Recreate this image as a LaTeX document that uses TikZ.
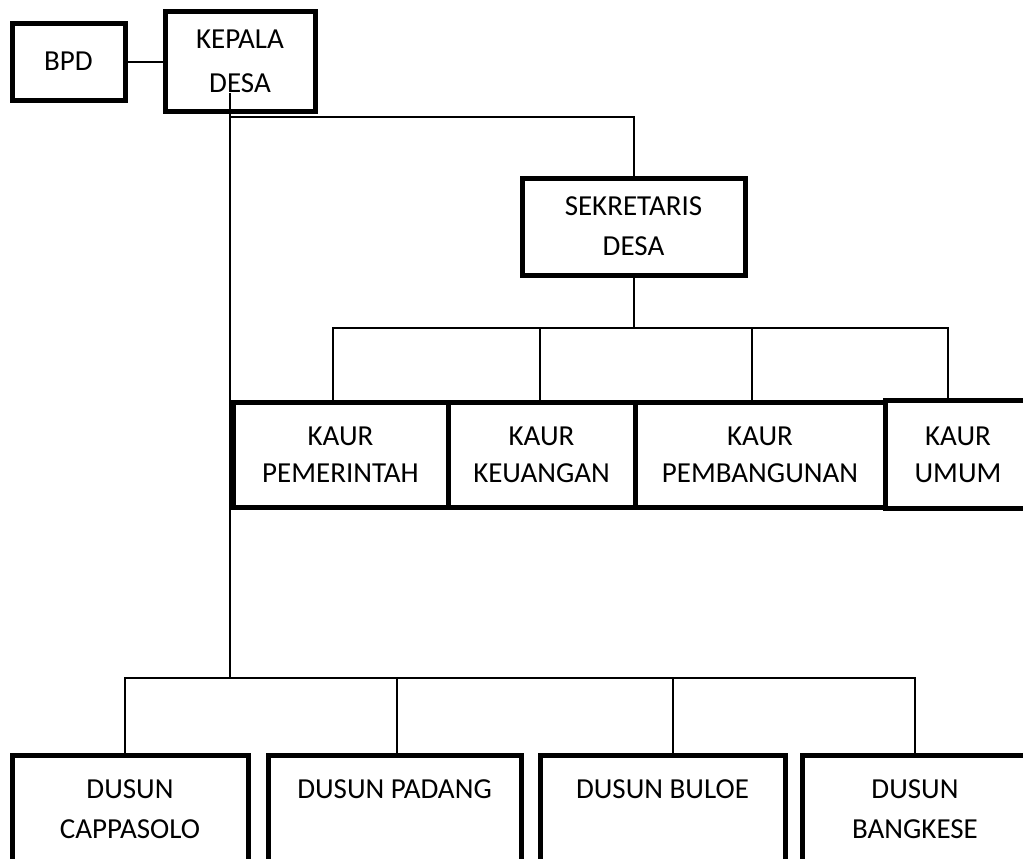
\documentclass[tikz,border=0pt]{standalone}
\usepackage{fontspec}
\setmainfont{Carlito}
\usetikzlibrary{positioning}

\begin{document}
\begin{tikzpicture}
  [%
 x=0.5pt, y=-0.5pt,
 unit/.style={
  rectangle,
  line width=2.5pt, % border
  draw=black,
  inner sep=0pt,
  outer sep=0pt,
  align=center,
  font=\fontsize{14.5}{20}\selectfont},
 kaur/.style={
  unit,
  minimum height=52.5pt,
  font=\fontsize{14.5}{18.5}\selectfont},
 dusun/.style={
  unit,
  minimum height=54pt},
 link/.style={line width=1pt}]
\useasboundingbox (0,0) rectangle (1023,858);
\clip (0,0) rectangle (1023,858);
\node (bpd) [unit, minimum width=56.5pt, minimum height=38.5pt] at (68.5,61.5) {BPD};
\node (kepala) [unit, minimum width=75pt, minimum height=50pt, font=\fontsize{14.5}{22}\selectfont, right=20pt of bpd] {KEPALA\\DESA};
\node (sekretaris) [unit, minimum width=111.5pt, minimum height=48.5pt] at (633.5,226.5) {SEKRETARIS\\DESA};
\node (pemerintah) [kaur, minimum width=107.5pt] at (340.5,454.5) {KAUR\\PEMERINTAH};
\node (keuangan) [kaur, minimum width=93.5pt, right=0pt of pemerintah] {KAUR\\KEUANGAN};
\node (pembangunan) [kaur, minimum width=125pt, right=0pt of keuangan] {KAUR\\PEMBANGUNAN};
\node (umum) [kaur, minimum width=73pt, minimum height=54pt, right=0pt of pembangunan] {KAUR\\UMUM};
\node (cappasolo) [dusun, minimum width=118pt] at (130,809) {DUSUN\\CAPPASOLO};
\node (padang) [dusun, minimum width=126.5pt, right=10pt of cappasolo] {DUSUN PADANG\\\mbox{}};
\node (buloe) [dusun, minimum width=122.5pt, right=9.5pt of padang] {DUSUN BULOE\\\mbox{}};
\node (bangkese) [dusun, minimum width=113pt, right=8.5pt of buloe] {DUSUN\\BANGKESE};
\coordinate (kdown) at (230,93);
\coordinate (hub) at (230,678);
\draw[link] (bpd) -- (kepala);
\draw[link] (kdown) -- (hub);
\draw[link] (kdown |- 0,117) -| (sekretaris.north);
\draw[link] (sekretaris.south) -- ++(0,53) coordinate (sbus);
\draw[link] (sbus) -| ([shift={(-7.5,0)}]pemerintah.north);
\draw[link] (sbus) -| ([shift={(-1.5,0)}]keuangan.north);
\draw[link] (sbus) -| ([shift={(-8,0)}]pembangunan.north);
\draw[link] (sbus) -| ([shift={(-10,0)}]umum.north);
\draw[link] (hub) -| ([shift={(-5,0)}]cappasolo.north);
\draw[link] (hub) -| ([shift={(2.5,0)}]padang.north);
\draw[link] (hub) -| ([shift={(10.5,0)}]buloe.north);
\draw[link] (hub) -| (bangkese.north);
\end{tikzpicture}
\end{document}
